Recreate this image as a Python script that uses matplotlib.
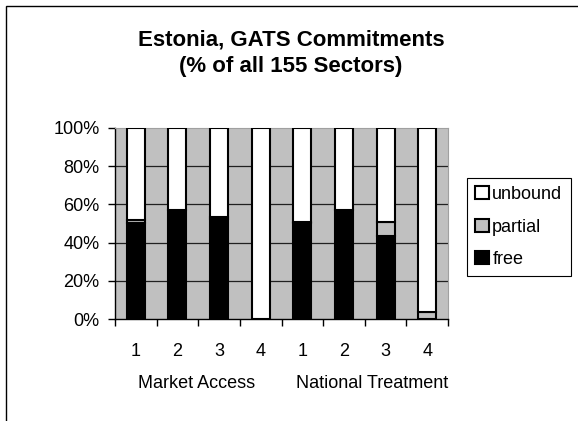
import matplotlib.pyplot as plt
import matplotlib.patches as mpatches
import numpy as np

plt.rcParams['font.family'] = ['Liberation Sans', 'DejaVu Sans']

# Share of the 155 sectors, per mode of supply (1-4), for each commitment type
groups = ['Market Access', 'National Treatment']
modes = ['1', '2', '3', '4', '1', '2', '3', '4']
free = [50.3, 57.1, 52.3, 0.0, 50.3, 57.1, 43.5, 0.0]
partial = [1.3, 0.0, 1.3, 0.0, 0.6, 0.0, 7.1, 3.8]
unbound = [100 - f - p for f, p in zip(free, partial)]

W, H = 578, 421
fig = plt.figure(figsize=(W / 100, H / 100), dpi=100)
ax = fig.add_axes([115/W, 1 - 319/H, 333/W, 191/H])

x = np.arange(len(modes))
w = 0.43
edge = dict(edgecolor='black', linewidth=1.5)
ax.bar(x, free, w, color='black', label='free', zorder=3, **edge)
ax.bar(x, partial, w, bottom=free, color='#c0c0c0', label='partial', zorder=3, **edge)
ax.bar(x, unbound, w, bottom=[f + p for f, p in zip(free, partial)],
       color='white', label='unbound', zorder=3, **edge)

ax.set_facecolor('#c0c0c0')
ax.set_xlim(-0.5, len(modes) - 0.5)
ax.set_ylim(0, 100)
ax.set_yticks(range(0, 101, 20))
ax.set_yticklabels([f'{v}%' for v in range(0, 101, 20)], fontsize=13)
# gridlines only inside the plot, not on the 100% edge
ax.hlines([20, 40, 60, 80], -0.5, len(modes) - 0.5, color='#202020',
          linewidth=0.9, zorder=1)

# category labels, ticks sit on the boundaries between bars
ax.set_xticks(x)
ax.set_xticklabels(modes, fontsize=13)
ax.tick_params(axis='x', length=0, pad=17)
ax.set_xticks(np.arange(-0.5, len(modes)), minor=True)
ax.tick_params(axis='x', which='minor', length=5, width=1)
ax.tick_params(axis='y', length=5, width=1, pad=6)

for side in ['top', 'right']:
    ax.spines[side].set_color('#a0a0a0')
    ax.spines[side].set_linewidth(0.8)
ax.spines['left'].set_linewidth(1)
ax.spines['bottom'].set_linewidth(1)

fig.text(197/W, 1 - 384/H, groups[0], ha='center', va='center', fontsize=13)
fig.text(372/W, 1 - 384/H, groups[1], ha='center', va='center', fontsize=13)

fig.text(291/W, 1 - 53/H, 'Estonia, GATS Commitments\n(% of all 155 Sectors)',
         ha='center', va='center', fontsize=16, fontweight='bold', linespacing=1.35)

handles, labels = ax.get_legend_handles_labels()
leg = fig.legend(handles[::-1], labels[::-1], loc='center left',
                 bbox_to_anchor=(467/W, 1 - 227/H), fontsize=13,
                 fancybox=False, edgecolor='black', framealpha=1,
                 handlelength=0.75, handleheight=0.75, handletextpad=0.2,
                 borderpad=0.45, labelspacing=0.85, borderaxespad=0)
leg.get_frame().set_linewidth(0.8)

# frame around the whole chart (right and bottom run off the canvas)
fig.patches.append(mpatches.Rectangle((6/W, -0.01), 1.0, 1 - 6/H + 0.01,
                                      transform=fig.transFigure, fill=False,
                                      edgecolor='black', linewidth=1))

fig.savefig('out.png', dpi=100)
